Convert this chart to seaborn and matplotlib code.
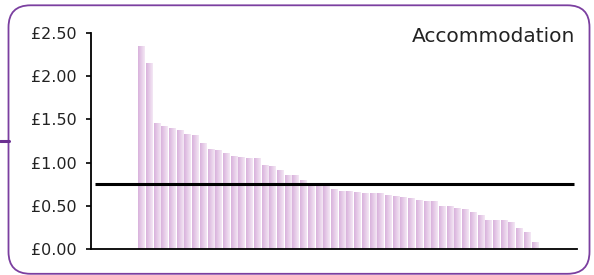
import matplotlib
matplotlib.use("Agg")
import matplotlib.pyplot as plt
import seaborn as sns
import numpy as np
import pandas as pd
from matplotlib.patches import FancyBboxPatch
from matplotlib.colors import LinearSegmentedColormap
from matplotlib.lines import Line2D

# ---- data ----
values = [2.35, 2.15, 1.46, 1.42, 1.40, 1.38, 1.33, 1.32, 1.23, 1.16,
          1.15, 1.11, 1.08, 1.06, 1.05, 1.05, 0.97, 0.96, 0.91, 0.86,
          0.86, 0.80, 0.76, 0.74, 0.73, 0.69, 0.67, 0.67, 0.66, 0.65,
          0.65, 0.65, 0.62, 0.61, 0.60, 0.59, 0.57, 0.56, 0.55, 0.50,
          0.50, 0.48, 0.46, 0.43, 0.39, 0.34, 0.34, 0.33, 0.31, 0.24,
          0.20, 0.08]
providers = [f"Provider {i + 1}" for i in range(len(values))]
average = 0.75
title = "Accommodation"
yticks = [0.0, 0.5, 1.0, 1.5, 2.0, 2.5]
ytick_labels = ["£0.00", "£0.50", "£1.00", "£1.50", "£2.00", "£2.50"]

df = pd.DataFrame({"provider": providers, "cost": values})

sns.set_style("white")
plt.rcParams["font.family"] = ["DejaVu Sans"]

fig = plt.figure(figsize=(5.94, 2.75), dpi=100)
ax = fig.add_axes([91 / 594, 26 / 275, (577 - 91) / 594, (249 - 33) / 275])

sns.barplot(data=df, x="provider", y="cost", order=providers,
            color="#E3C6E5", width=0.78, saturation=1, ax=ax, zorder=2)

# horizontal gradient inside each bar
cmap = LinearSegmentedColormap.from_list("bar", ["#D9B2DC", "#E6CCE8", "#F4E8F5"])
grad = np.linspace(0, 1, 64).reshape(1, -1)
for p in list(ax.patches):
    p.set_edgecolor("none")
    x0, y0 = p.get_x(), p.get_y()
    w, h = p.get_width(), p.get_height()
    im = ax.imshow(grad, extent=[x0, x0 + w, y0, y0 + h], aspect="auto",
                   cmap=cmap, zorder=2.1, interpolation="bilinear")
    im.set_clip_path(p)

ax.hlines(average, -6.0, 56.1, color="black", lw=2.2, zorder=4)

ax.set_xlim(-6.5, 56.5)
ax.set_ylim(0, 2.5)
ax.set_aspect("auto")
ax.set_yticks(yticks)
ax.set_yticklabels(ytick_labels)
ax.set_xticks([])
ax.set_xlabel("")
ax.set_ylabel("")
for s in ["top", "right"]:
    ax.spines[s].set_visible(False)
for s in ["left", "bottom"]:
    ax.spines[s].set_color("black")
    ax.spines[s].set_linewidth(1.3)
ax.tick_params(axis="y", left=True, length=3.6, width=1.2, pad=6.5,
               labelsize=11.5, labelcolor="#222222", color="black")
ax.grid(False)

fig.text(575 / 594, (275 - 42) / 275, title, ha="right", va="baseline",
         fontsize=14.5, color="#222222")

# rounded purple frame
frame = FancyBboxPatch((0.085, 0.012), 5.81, 2.685,
                       boxstyle="round,pad=0,rounding_size=0.22",
                       transform=fig.dpi_scale_trans, fill=False,
                       edgecolor="#7B3FA0", lw=1.3, zorder=10)
fig.add_artist(frame)
fig.add_artist(Line2D([0, 0.085], [1.345, 1.345], transform=fig.dpi_scale_trans,
                      color="#6B3091", lw=2.2, zorder=10))

fig.savefig("out.png", dpi=100)
